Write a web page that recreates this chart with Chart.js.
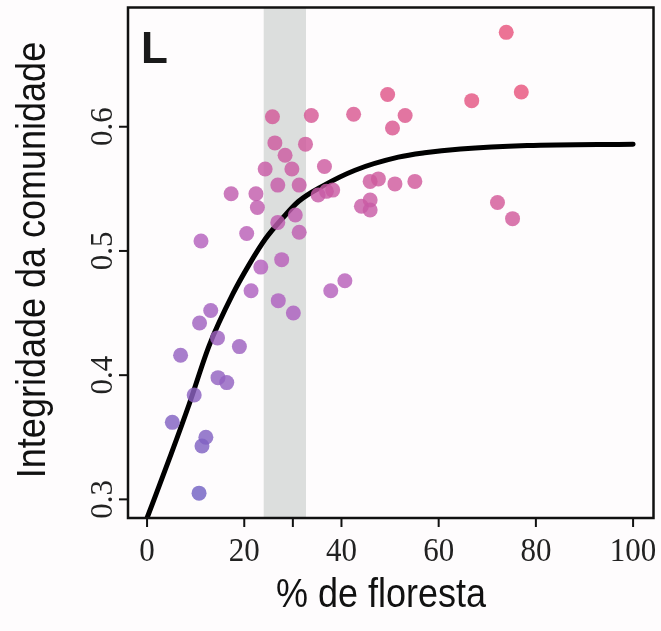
<!DOCTYPE html>
<html>
<head>
<meta charset="utf-8">
<script src="https://cdn.jsdelivr.net/npm/chart.js@4.4.1/dist/chart.umd.min.js"></script>
<style>
  html, body { margin: 0; padding: 0; background: #fefcfd; }
  #wrap { width: 661px; height: 631px; }
</style>
</head>
<body>
<div id="wrap"><canvas id="chart" width="661" height="631"></canvas></div>
<script>
// % forest cover (x) and community integrity (y) of each site
const forestCover = [73.9, 77.0, 66.8, 49.5, 53.1, 50.5, 42.5, 25.8, 33.8, 26.3,
    32.6, 28.4, 24.3, 29.8, 36.5, 26.9, 31.3, 17.3, 22.4, 22.7,
    35.2, 36.9, 38.2, 45.9, 47.6, 51.0, 55.1, 44.1, 45.9, 45.9,
    72.1, 75.2, 26.9, 30.5, 31.3, 20.5, 11.1, 27.7, 23.4, 40.7,
    37.8, 21.4, 27.0, 30.1, 13.1, 10.8, 14.5, 19.0, 6.9, 14.6,
    16.4, 9.7, 5.2, 12.1, 11.3, 10.7];
const integrity = [0.676, 0.628, 0.621, 0.626, 0.609, 0.599, 0.610, 0.608, 0.609, 0.587,
    0.586, 0.577, 0.566, 0.566, 0.568, 0.553, 0.553, 0.546, 0.546, 0.535,
    0.545, 0.548, 0.549, 0.556, 0.558, 0.554, 0.556, 0.536, 0.541, 0.533,
    0.539, 0.526, 0.523, 0.529, 0.515, 0.514, 0.508, 0.493, 0.487, 0.476,
    0.468, 0.468, 0.460, 0.450, 0.452, 0.442, 0.430, 0.423, 0.416, 0.398,
    0.394, 0.384, 0.362, 0.350, 0.343, 0.305];

// fitted curve
const curveX = [0, 5, 8.7, 12.8, 17.6, 21, 24.4, 27.8, 31.2, 36, 42.8, 51.7, 57.1, 64.5, 78.2, 100];
const curveY = [0.285, 0.337, 0.377, 0.424, 0.465, 0.489, 0.510, 0.526, 0.540, 0.552, 0.565, 0.5755, 0.579, 0.582, 0.5848, 0.586];

// threshold band (% forest)
const bandRange = [24, 32.7];

const xTicks = [0, 20, 30, 40, 60, 80, 100];
const xTickLabels = ['0', '20', '', '40', '60', '80', '100'];
const yTicks = [0.3, 0.4, 0.5, 0.6];
const yTickLabels = ['0.3', '0.4', '0.5', '0.6'];

const panelLabel = 'L';
const xTitle = '% de floresta';
const yTitle = 'Integridade da comunidade';

// colour ramp blue -> purple -> pink
function dotColor(x, y) {
    let t = (y - 0.30) / 0.33 * 0.75 + x / 100 * 0.35;
    t = Math.max(0, Math.min(1, t));
    const c0 = [108, 98, 196], c1 = [180, 96, 190], c2 = [232, 84, 126];
    let a, b, k;
    if (t < 0.5) { a = c0; b = c1; k = t / 0.5; } else { a = c1; b = c2; k = (t - 0.5) / 0.5; }
    const c = a.map((v, i) => Math.round(v + (b[i] - v) * k));
    return `rgba(${c[0]},${c[1]},${c[2]},0.82)`;
}

const points = forestCover.map((x, i) => ({ x: x, y: integrity[i] }));
const curve = curveX.map((x, i) => ({ x: x, y: curveY[i] }));

const decor = {
    id: 'decor',
    beforeDatasetsDraw(chart) {
        const { ctx, chartArea, scales } = chart;
        const x0 = scales.x.getPixelForValue(bandRange[0]);
        const x1 = scales.x.getPixelForValue(bandRange[1]);
        ctx.save();
        ctx.fillStyle = '#dcdedd';
        ctx.fillRect(x0, chartArea.top, x1 - x0, chartArea.bottom - chartArea.top);
        ctx.restore();
    },
    afterDraw(chart) {
        const { ctx, chartArea, scales } = chart;
        const a = chartArea;
        ctx.save();
        ctx.strokeStyle = '#111';
        ctx.lineWidth = 2.5;
        ctx.strokeRect(a.left, a.top, a.right - a.left, a.bottom - a.top);

        // x ticks
        ctx.lineWidth = 2;
        ctx.fillStyle = '#222';
        ctx.font = "31px 'Liberation Serif', 'DejaVu Serif', serif";
        ctx.textAlign = 'center';
        ctx.textBaseline = 'alphabetic';
        xTicks.forEach((v, i) => {
            const px = scales.x.getPixelForValue(v);
            ctx.beginPath();
            ctx.moveTo(px, a.bottom);
            ctx.lineTo(px, a.bottom + 9);
            ctx.stroke();
            ctx.save();
            ctx.translate(px, 561);
            ctx.scale(1, 1.1);
            ctx.fillText(xTickLabels[i], 0, 0);
            ctx.restore();
        });

        // y ticks, labels rotated
        yTicks.forEach((v, i) => {
            const py = scales.y.getPixelForValue(v);
            ctx.beginPath();
            ctx.moveTo(a.left, py);
            ctx.lineTo(a.left - 9, py);
            ctx.stroke();
            ctx.save();
            ctx.translate(112, py);
            ctx.rotate(-Math.PI / 2);
            ctx.fillText(yTickLabels[i], 0, 0);
            ctx.restore();
        });

        // axis titles, slightly tall like the source
        ctx.fillStyle = '#111';
        ctx.font = "36px 'Liberation Sans', Arial, sans-serif";
        ctx.save();
        ctx.translate(381, 607);
        ctx.scale(1, 1.12);
        ctx.fillText(xTitle, 0, 0);
        ctx.restore();
        ctx.save();
        ctx.translate(45, 260);
        ctx.rotate(-Math.PI / 2);
        ctx.scale(1, 1.12);
        ctx.fillText(yTitle, 0, 0);
        ctx.restore();

        // panel letter
        ctx.font = "bold 44px 'Liberation Sans', Arial, sans-serif";
        ctx.textAlign = 'left';
        ctx.fillStyle = '#1a1a1a';
        ctx.fillText(panelLabel, 141, 63);
        ctx.restore();
    }
};

new Chart(document.getElementById('chart'), {
    type: 'scatter',
    data: {
        datasets: [{
            label: 'sites',
            data: points,
            backgroundColor: points.map(p => dotColor(p.x, p.y)),
            borderWidth: 0,
            pointRadius: 7.5,
            pointHoverRadius: 7.5,
            order: 0
        }, {
            type: 'line',
            label: 'fit',
            data: curve,
            borderColor: '#000',
            borderWidth: 5,
            borderCapStyle: 'round',
            pointRadius: 0,
            cubicInterpolationMode: 'monotone',
            fill: false,
            order: 1
        }]
    },
    options: {
        responsive: false,
        animation: false,
        devicePixelRatio: 1,
        layout: { padding: { left: 128, top: 5, right: 4, bottom: 113 } },
        plugins: { legend: { display: false }, tooltip: { enabled: false } },
        scales: {
            x: { type: 'linear', min: -3.92, max: 104.2, display: false },
            y: { type: 'linear', min: 0.285, max: 0.696, display: false }
        }
    },
    plugins: [decor]
});
</script>
</body>
</html>
